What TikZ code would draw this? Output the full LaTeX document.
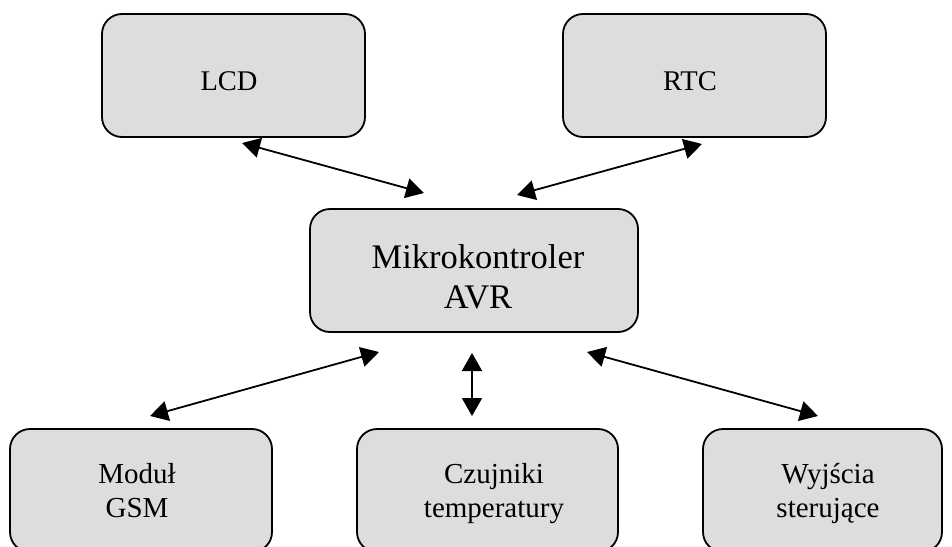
\documentclass[tikz,border=0pt]{standalone}
\usepackage{fontspec}
\setmainfont{Liberation Serif}
\usetikzlibrary{arrows.meta}
\definecolor{boxfill}{HTML}{DDDDDD}
\tikzset{
  blk/.style={draw=black, fill=boxfill, line width=1.8pt, rounded corners=20pt, inner sep=0pt, minimum height=123pt},
  lbl/.style={anchor=base, inner sep=0pt, font=\fontsize{28.5}{34}\selectfont},
  biglbl/.style={anchor=base, inner sep=0pt, font=\fontsize{34.5}{40}\selectfont},
  smlbl/.style={anchor=base, inner sep=0pt, font=\fontsize{29}{34.5}\selectfont},
  link/.style={line width=1.8pt, {Triangle[length=18pt,width=20pt]}-{Triangle[length=18pt,width=20pt]}}
}
\begin{document}
\begin{tikzpicture}[x=1pt,y=-1pt]
\useasboundingbox (0,0) rectangle (952,546);
\clip (0,0) rectangle (952,546);
% boxes
\node[blk, minimum width=263pt] (lcd) at (233.5,75.5) {};
\node[blk, minimum width=263pt] (rtc) at (694.5,75.5) {};
\node[blk, minimum width=328pt] (mcu) at (474,270.5) {};
\node[blk, minimum width=262pt] (gsm) at (141,490.5) {};
\node[blk, minimum width=261pt] (czu) at (487.5,490.5) {};
\node[blk, minimum width=239pt] (wyj) at (822.5,490.5) {};
% labels
\node[lbl] (lcdt) at (229,90) {LCD};
\node[lbl] (rtct) at (690,90) {RTC};
\node[biglbl] (mcut) at (478,268) {\begin{tabular}[t]{@{}c@{}}Mikrokontroler\\AVR\end{tabular}};
\node[smlbl] (gsmt) at (137,483) {\begin{tabular}[t]{@{}c@{}}Moduł\\GSM\end{tabular}};
\node[smlbl] (czut) at (494,483) {\begin{tabular}[t]{@{}c@{}}Czujniki\\temperatury\end{tabular}};
\node[smlbl] (wyjt) at (828,483) {\begin{tabular}[t]{@{}c@{}}Wyjścia\\sterujące\end{tabular}};
% connector end points
\coordinate (a1) at (242,143);
\coordinate (a2) at (424,193);
\coordinate (b1) at (702,144);
\coordinate (b2) at (517,195);
\coordinate (c1) at (379,352);
\coordinate (c2) at (150,416);
\coordinate (d1) at (472,353);
\coordinate (d2) at (472,416);
\coordinate (e1) at (587,352);
\coordinate (e2) at (818,416);
% connectors
\draw[link] (a1) -- (a2);
\draw[link] (b1) -- (b2);
\draw[link] (c1) -- (c2);
\draw[link] (d1) -- (d2);
\draw[link] (e1) -- (e2);
\end{tikzpicture}
\end{document}
